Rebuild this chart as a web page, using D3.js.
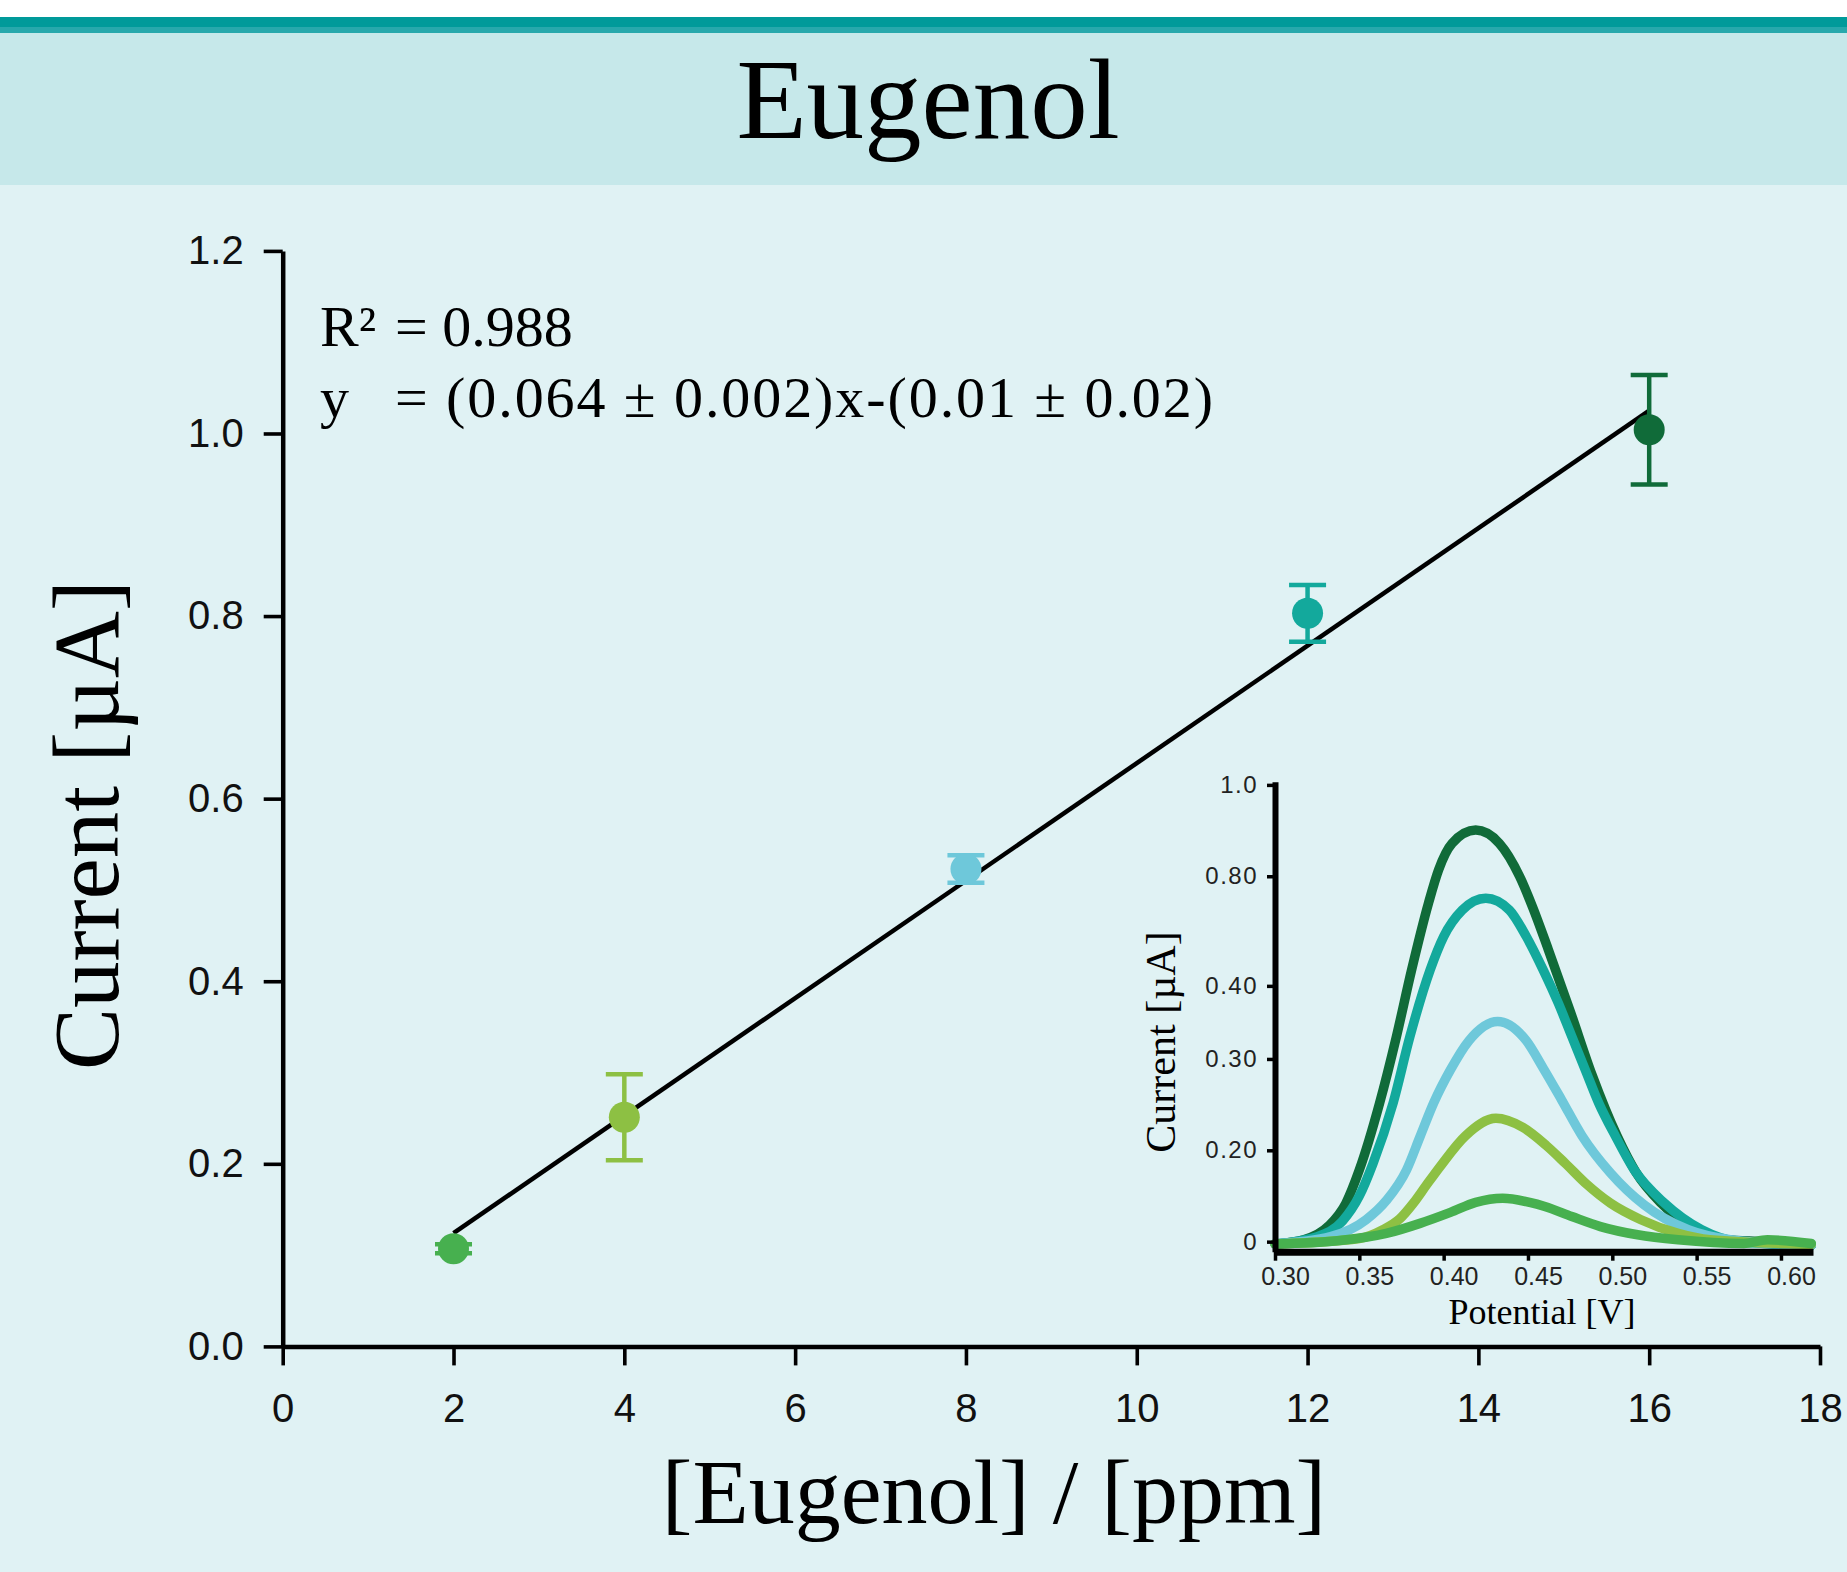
<!DOCTYPE html>
<html>
<head>
<meta charset="utf-8">
<script src="https://cdn.jsdelivr.net/npm/d3@7"></script>
<style>
	body { margin: 0; background: #ffffff; }
	svg { display: block; }
	.serif { font-family: "Liberation Serif", "Times New Roman", serif; fill: #000; }
	.sans { font-family: "Liberation Sans", Arial, sans-serif; }
</style>
</head>
<body>
<svg id="chart" width="1847" height="1572"></svg>
<script>
// calibration data, main plot
var concentrations = [2, 4, 8, 12, 16];
var currents = [0.107, 0.251, 0.523, 0.803, 1.004];
var currentErrors = [0.005, 0.047, 0.015, 0.031, 0.060];
var fitX = [2, 16];
var fitY = [0.124, 1.025];
var xTicks = [0, 2, 4, 6, 8, 10, 12, 14, 16, 18];
var yTicks = [0, 0.2, 0.4, 0.6, 0.8, 1.0, 1.2];

// inset voltammograms, [potential V, current uA]
var curve16 = [[0.300, -0.005], [0.317, 0.004], [0.332, 0.035], [0.342, 0.084], [0.350, 0.157], [0.362, 0.303], [0.372, 0.449], [0.381, 0.595], [0.391, 0.741], [0.397, 0.814], [0.405, 0.872], [0.419, 0.901], [0.433, 0.872], [0.445, 0.800], [0.453, 0.730], [0.462, 0.640], [0.475, 0.505], [0.488, 0.365], [0.503, 0.230], [0.514, 0.152], [0.529, 0.084], [0.549, 0.026], [0.568, 0.004], [0.590, 0.000], [0.618, -0.008]];
var curve12 = [[0.300, -0.005], [0.325, 0.011], [0.340, 0.045], [0.350, 0.100], [0.358, 0.170], [0.370, 0.303], [0.380, 0.449], [0.392, 0.595], [0.400, 0.668], [0.411, 0.726], [0.425, 0.752], [0.439, 0.726], [0.449, 0.668], [0.459, 0.595], [0.468, 0.522], [0.476, 0.449], [0.484, 0.376], [0.492, 0.303], [0.502, 0.230], [0.513, 0.157], [0.531, 0.084], [0.553, 0.026], [0.574, 0.000], [0.590, -0.004], [0.618, -0.008]];
var curve8 = [[0.300, -0.005], [0.333, 0.011], [0.354, 0.048], [0.366, 0.090], [0.378, 0.157], [0.386, 0.230], [0.394, 0.303], [0.404, 0.376], [0.415, 0.440], [0.432, 0.482], [0.449, 0.440], [0.459, 0.380], [0.470, 0.310], [0.482, 0.232], [0.499, 0.150], [0.519, 0.080], [0.545, 0.026], [0.570, 0.004], [0.618, -0.008]];
var curve4 = [[0.300, -0.005], [0.350, 0.007], [0.364, 0.026], [0.374, 0.050], [0.382, 0.084], [0.390, 0.125], [0.398, 0.165], [0.413, 0.232], [0.431, 0.270], [0.447, 0.250], [0.461, 0.210], [0.472, 0.172], [0.485, 0.125], [0.499, 0.084], [0.517, 0.048], [0.539, 0.018], [0.558, 0.004], [0.618, -0.006]];
var curve2 = [[0.300, -0.005], [0.337, 0.002], [0.366, 0.018], [0.386, 0.040], [0.404, 0.064], [0.419, 0.086], [0.435, 0.095], [0.451, 0.086], [0.460, 0.077], [0.476, 0.055], [0.493, 0.033], [0.515, 0.015], [0.539, 0.004], [0.578, -0.004], [0.592, 0.004], [0.618, -0.004]];
var insetXTicks = [0.30, 0.35, 0.40, 0.45, 0.50, 0.55, 0.60];
var insetYTicks = [0, 0.2, 0.4, 0.56, 0.8, 1.0];
var insetYTickLabels = ["0", "0.20", "0.30", "0.40", "0.80", "1.0"];

var pointColors = ["#47b04f", "#8dc043", "#6ec8da", "#13a99c", "#106b39"];

function drawBackground(svg) {
	svg.append("rect").attr("x", 0).attr("y", 0).attr("width", 1847).attr("height", 1572).attr("fill", "#ffffff");
	svg.append("rect").attr("x", 0).attr("y", 17).attr("width", 1847).attr("height", 1555).attr("fill", "#e0f2f4");
	svg.append("rect").attr("x", 0).attr("y", 17).attr("width", 1847).attr("height", 168).attr("fill", "#c6e8ea");
	svg.append("rect").attr("x", 0).attr("y", 17).attr("width", 1847).attr("height", 11).attr("fill", "#009a9a");
	svg.append("rect").attr("x", 0).attr("y", 27).attr("width", 1847).attr("height", 6).attr("fill", "#27a8ac");

	svg.append("text")
		.attr("class", "serif")
		.attr("x", 928)
		.attr("y", 138)
		.attr("text-anchor", "middle")
		.style("font-size", "115px")
		.text("Eugenol");
}

function styleAxis(g, width, fontSize) {
	g.select(".domain").attr("stroke", "#000").attr("stroke-width", width);
	g.selectAll(".tick line").attr("stroke", "#000").attr("stroke-width", width * 0.8);
	g.selectAll(".tick text")
		.attr("class", "sans")
		.attr("fill", "#111")
		.style("font-size", fontSize);
}

function drawMain(svg) {
	var x = d3.scaleLinear().domain([0, 18]).range([282.7, 1820]);
	var y = d3.scaleLinear().domain([0, 1.2]).range([1346.4, 250.9]);

	var gx = svg.append("g")
		.attr("transform", "translate(0," + y(0) + ")")
		.call(d3.axisBottom(x).tickValues(xTicks).tickSize(19).tickSizeOuter(0).tickPadding(28).tickFormat(d3.format("d")));
	styleAxis(gx, 4.5, "40px");

	var gy = svg.append("g")
		.attr("transform", "translate(" + x(0) + ",0)")
		.call(d3.axisLeft(y).tickValues(yTicks).tickSize(19).tickSizeOuter(0).tickPadding(20).tickFormat(d3.format(".1f")));
	styleAxis(gy, 4.5, "40px");

	svg.append("text")
		.attr("class", "serif")
		.attr("transform", "translate(118,825) rotate(-90)")
		.attr("text-anchor", "middle")
		.style("font-size", "93px")
		.text("Current [µA]");

	svg.append("text")
		.attr("class", "serif")
		.attr("x", 994)
		.attr("y", 1523)
		.attr("text-anchor", "middle")
		.style("font-size", "92px")
		.text("[Eugenol] / [ppm]");

	// fit equation
	var eq = svg.append("g").attr("class", "serif").style("font-size", "58px");
	eq.append("text").attr("x", 320).attr("y", 346).text("R²");
	eq.append("text").attr("x", 395).attr("y", 346).text("= 0.988");
	eq.append("text").attr("x", 320).attr("y", 417).text("y");
	eq.append("text").attr("x", 395).attr("y", 417).attr("textLength", 818).text("= (0.064 ± 0.002)x-(0.01 ± 0.02)");

	svg.append("line")
		.attr("x1", x(fitX[0])).attr("y1", y(fitY[0]))
		.attr("x2", x(fitX[1])).attr("y2", y(fitY[1]))
		.attr("stroke", "#000")
		.attr("stroke-width", 4.5);

	var pts = concentrations.map(function(c, i) {
		return { c: c, v: currents[i], e: currentErrors[i], color: pointColors[i] };
	});

	var bars = svg.selectAll("g.err").data(pts).enter().append("g").attr("class", "err");
	bars.append("line")
		.attr("x1", function(d) { return x(d.c); })
		.attr("x2", function(d) { return x(d.c); })
		.attr("y1", function(d) { return y(d.v - d.e); })
		.attr("y2", function(d) { return y(d.v + d.e); })
		.attr("stroke", function(d) { return d.color; })
		.attr("stroke-width", 4.5);
	[-1, 1].forEach(function(s) {
		bars.append("line")
			.attr("x1", function(d) { return x(d.c) - 18.5; })
			.attr("x2", function(d) { return x(d.c) + 18.5; })
			.attr("y1", function(d) { return y(d.v + s * d.e); })
			.attr("y2", function(d) { return y(d.v + s * d.e); })
			.attr("stroke", function(d) { return d.color; })
			.attr("stroke-width", 4.5);
	});
	svg.selectAll("circle.pt").data(pts).enter().append("circle")
		.attr("class", "pt")
		.attr("cx", function(d) { return x(d.c); })
		.attr("cy", function(d) { return y(d.v); })
		.attr("r", 15.5)
		.attr("fill", function(d) { return d.color; });
}

function drawInset(svg) {
	var x = d3.scaleLinear().domain([0.30, 0.619]).range([1275, 1813]);
	var y = d3.scaleLinear().domain([-0.022, 1.007]).range([1251.7, 781.7]);

	var curves = [curve16, curve12, curve8, curve4, curve2];
	var colors = [pointColors[4], pointColors[3], pointColors[2], pointColors[1], pointColors[0]];

	var line = d3.line()
		.x(function(d) { return x(d[0]); })
		.y(function(d) { return y(d[1]); })
		.curve(d3.curveMonotoneX);

	svg.selectAll("path.vc").data(curves).enter().append("path")
		.attr("class", "vc")
		.attr("d", line)
		.attr("fill", "none")
		.attr("stroke", function(d, i) { return colors[i]; })
		.attr("stroke-width", 9.5)
		.attr("stroke-linecap", "round")
		.attr("stroke-linejoin", "round");

	var gx = svg.append("g")
		.attr("transform", "translate(0," + y(-0.022) + ")")
		.call(d3.axisBottom(x).tickValues(insetXTicks).tickSize(9).tickSizeOuter(0).tickPadding(7).tickFormat(d3.format(".2f")));
	gx.select(".domain").attr("stroke", "#000").attr("stroke-width", 7);
	gx.selectAll(".tick line").attr("stroke", "#000").attr("stroke-width", 3.5);
	gx.selectAll(".tick text")
		.attr("class", "sans")
		.attr("fill", "#222")
		.attr("dx", 10)
		.style("font-size", "25px");

	var gy = svg.append("g")
		.attr("transform", "translate(" + x(0.30) + ",0)")
		.call(d3.axisLeft(y).tickValues(insetYTicks).tickSize(8).tickSizeOuter(0).tickPadding(9)
			.tickFormat(function(d, i) { return insetYTickLabels[i]; }));
	gy.select(".domain").attr("stroke", "#000").attr("stroke-width", 6);
	gy.selectAll(".tick line").attr("stroke", "#000").attr("stroke-width", 3.5);
	gy.selectAll(".tick text")
		.attr("class", "sans")
		.attr("fill", "#222")
		.style("font-size", "24px")
		.style("letter-spacing", "1.5px");

	svg.append("text")
		.attr("class", "serif")
		.attr("x", 1542)
		.attr("y", 1324)
		.attr("text-anchor", "middle")
		.style("font-size", "36px")
		.text("Potential [V]");

	svg.append("text")
		.attr("class", "serif")
		.attr("transform", "translate(1175,1042) rotate(-90)")
		.attr("text-anchor", "middle")
		.style("font-size", "42px")
		.text("Current [µA]");
}

function init() {
	var svg = d3.select("#chart");
	drawBackground(svg);
	drawMain(svg);
	drawInset(svg);
}

init();
</script>
</body>
</html>
